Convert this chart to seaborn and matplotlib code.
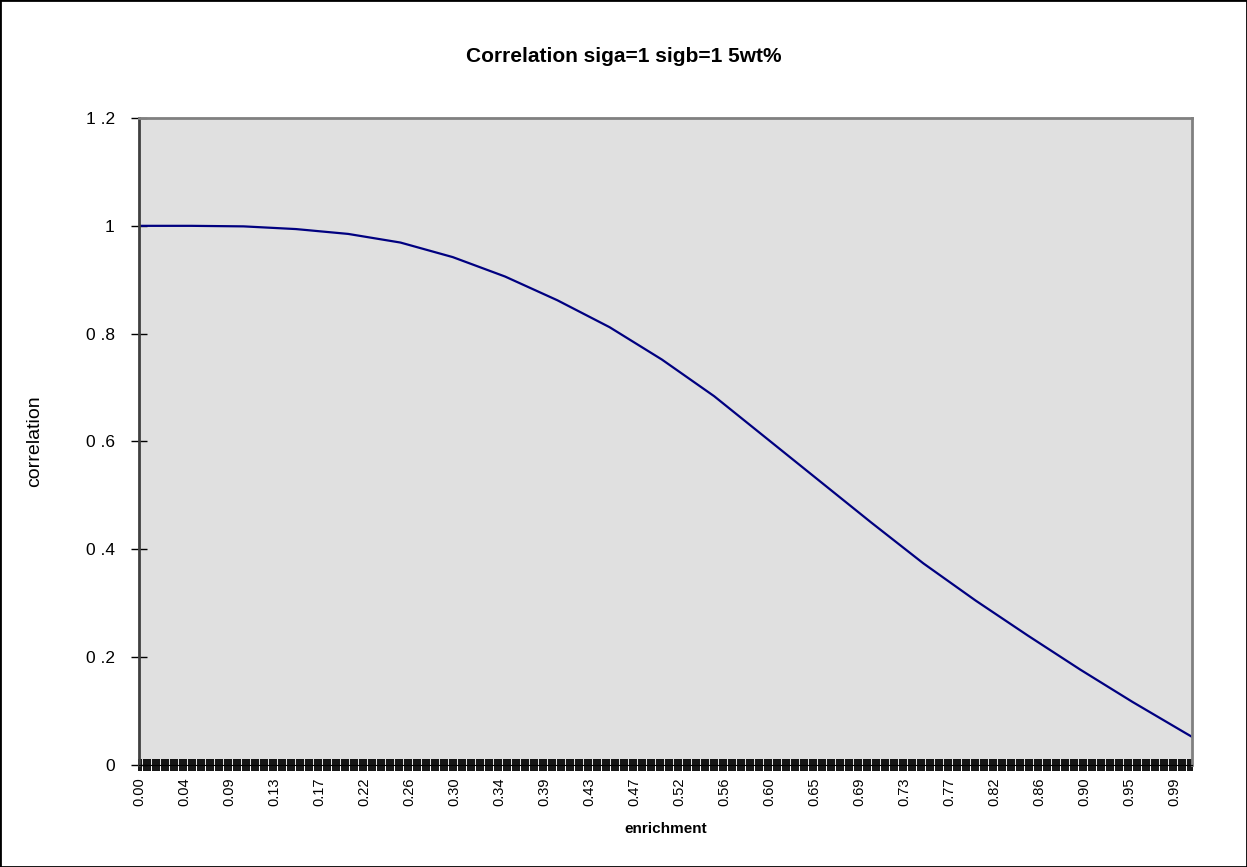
import pandas as pd
import seaborn as sns
import matplotlib

matplotlib.use('Agg')
import matplotlib.pyplot as plt
from matplotlib.ticker import MultipleLocator, FuncFormatter
from matplotlib.patches import Rectangle

# values
enrichment = [0.0, 0.05, 0.10, 0.15, 0.20, 0.25, 0.30, 0.35, 0.40, 0.45, 0.50,
              0.55, 0.60, 0.65, 0.70, 0.75, 0.80, 0.85, 0.90, 0.95, 1.00, 1.008]
correlation = [1.000, 1.000, 0.999, 0.994, 0.985, 0.969, 0.942, 0.906, 0.862,
               0.812, 0.752, 0.684, 0.606, 0.528, 0.450, 0.374, 0.305, 0.240,
               0.177, 0.117, 0.060, 0.051]
yticks = [0, 0.2, 0.4, 0.6, 0.8, 1.0, 1.2]
ytick_labels = ['0', '0 .2', '0 .4', '0 .6', '0 .8', '1', '1 .2']

label_step = 0.04303   # enrichment between labelled categories
step = label_step / 20  # one tick mark per category

plt.rcParams['font.family'] = ['Liberation Sans', 'DejaVu Sans']

fig = plt.figure(figsize=(12.47, 8.67), dpi=100)
ax = fig.add_axes([139 / 1247, 1 - 765 / 867, 1053 / 1247, 647 / 867])
ax.set_facecolor('#e0e0e0')

df = pd.DataFrame({'enrichment': enrichment, 'correlation': correlation})
sns.lineplot(data=df, x='enrichment', y='correlation', color='#000080',
             linewidth=1.6, ax=ax)

ax.set_xlim(0, 468 * step)
ax.set_ylim(0, 1.2)
ax.set_yticks(yticks)
ax.set_yticklabels(ytick_labels, fontsize=12.5)
ax.xaxis.set_major_locator(MultipleLocator(label_step))
ax.xaxis.set_minor_locator(MultipleLocator(step))
ax.xaxis.set_major_formatter(FuncFormatter(lambda v, p: f'{v:.2f}'))
ax.tick_params(axis='x', which='both', direction='inout', length=8,
               width=1.3, color='black', labelrotation=90, pad=5)
ax.tick_params(axis='y', direction='inout', length=11, width=1,
               color='black', pad=12)
plt.setp(ax.get_xticklabels(), fontsize=10.5)

for side in ['top', 'right']:
    ax.spines[side].set_color('#808080')
    ax.spines[side].set_linewidth(2)
ax.spines['left'].set_color('#404040')
ax.spines['left'].set_linewidth(2)
ax.spines['bottom'].set_color('black')

ax.set_xlabel('enrichment', fontweight='bold', fontsize=11, va='center')
ax.xaxis.set_label_coords(0.5, -(829 - 765) / 647)
ax.set_ylabel('correlation', fontsize=14, va='center')
ax.yaxis.set_label_coords(-0.099, 0.5)

fig.suptitle('Correlation siga=1 sigb=1 5wt%', x=0.5, y=1 - 57 / 867,
             va='center', fontweight='bold', fontsize=15)
fig.add_artist(Rectangle((0, 0), 1, 1, transform=fig.transFigure,
                         fill=False, edgecolor='black', linewidth=2))

fig.savefig('out.png', dpi=100)
